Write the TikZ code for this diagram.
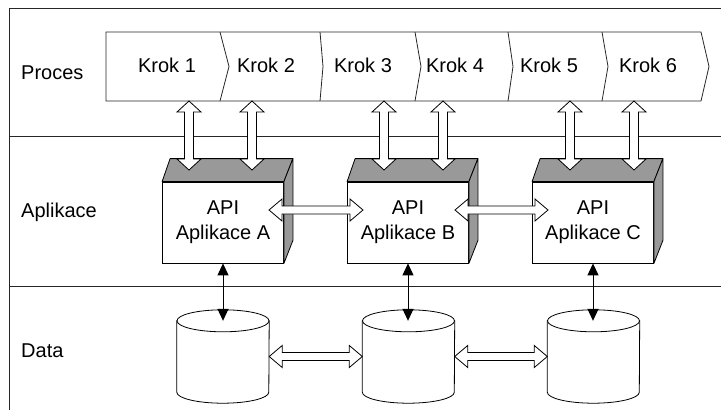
\documentclass[tikz,border=0pt]{standalone}
\usepackage{fontspec}
\setmainfont{Liberation Sans}
\usetikzlibrary{arrows.meta,calc}
\definecolor{boxgray}{RGB}{153,153,153}
\tikzset{
  frameline/.style={draw=black!85, line width=0.8pt},
  lbl/.style={anchor=base west, inner sep=0pt, font=\fontsize{20}{24}\selectfont},
  steptext/.style={anchor=base, inner sep=0pt, font=\fontsize{20}{24}\selectfont},
  apibox/.style={draw=black, fill=white, line width=0.8pt, minimum width=121, minimum height=81,
    inner sep=0pt, align=center, font=\fontsize{20}{25}\selectfont},
  face/.style={draw=black, fill=boxgray, line width=0.8pt, line join=round},
  dbnode/.style={minimum width=92, minimum height=71, inner sep=0pt},
  dbshape/.style={draw=black, fill=white, line width=0.8pt},
  blk/.style={line width=1pt, {Triangle[length=12pt,width=11pt]}-{Triangle[length=12pt,width=11pt]}},
  % hollow double-headed arrow: #1 head length, #2 head half width, #3 shaft half width
  hollow/.style n args={3}{draw=black, fill=white, line width=0.8pt, line join=miter,
    to path={let \p1=(\tikztostart), \p2=(\tikztotarget),
      \n1={veclen(\x2-\x1,\y2-\y1)}, \n2={(\x2-\x1)/\n1}, \n3={(\y2-\y1)/\n1} in
      (\p1)
      -- ({\x1+(#1)*\n2-(#2)*\n3},{\y1+(#1)*\n3+(#2)*\n2})
      -- ({\x1+(#1)*\n2-(#3)*\n3},{\y1+(#1)*\n3+(#3)*\n2})
      -- ({\x1+(\n1-(#1))*\n2-(#3)*\n3},{\y1+(\n1-(#1))*\n3+(#3)*\n2})
      -- ({\x1+(\n1-(#1))*\n2-(#2)*\n3},{\y1+(\n1-(#1))*\n3+(#2)*\n2})
      -- (\p2)
      -- ({\x1+(\n1-(#1))*\n2+(#2)*\n3},{\y1+(\n1-(#1))*\n3-(#2)*\n2})
      -- ({\x1+(\n1-(#1))*\n2+(#3)*\n3},{\y1+(\n1-(#1))*\n3-(#3)*\n2})
      -- ({\x1+(#1)*\n2+(#3)*\n3},{\y1+(#1)*\n3-(#3)*\n2})
      -- ({\x1+(#1)*\n2+(#2)*\n3},{\y1+(#1)*\n3-(#2)*\n2})
      -- cycle}},
  vhollow/.style={hollow={11}{12}{4.5}},
  hhollow/.style={hollow={13}{11}{4}}
}
\begin{document}
\begin{tikzpicture}[x=1pt, y=-1pt]
\useasboundingbox (0,0) rectangle (721,410);

% lanes
\draw[frameline] (721,8) -- (9,8) -- (9,410);
\draw[frameline] (9,136) -- (721,136);
\draw[frameline] (9,286) -- (721,286);

\node[lbl] (lproc) at (21,79) {Proces};
\node[lbl] (lapp) at (21,217) {Aplikace};
\node[lbl] (ldata) at (21,357) {Data};

% process chevrons
\draw[line width=0.8pt, draw=black!85, line join=miter]
  (106,32) -- (701,32) -- (709,66.5) -- (701,101) -- (106,101) -- cycle;
\draw[line width=0.8pt, draw=black!85] (220,32) -- (229,66.5) -- (220,101);
\draw[line width=0.8pt, draw=black!85] (320,32) -- (323,66.5) -- (320,101);
\draw[line width=0.8pt, draw=black!85] (415,32) -- (421,66.5) -- (415,101);
\draw[line width=0.8pt, draw=black!85] (508,32) -- (513,66.5) -- (508,101);
\draw[line width=0.8pt, draw=black!85] (602,32) -- (608,66.5) -- (602,101);

\node[steptext] (k1) at (167,72) {Krok 1};
\node[steptext] (k2) at (266,72) {Krok 2};
\node[steptext] (k3) at (363,72) {Krok 3};
\node[steptext] (k4) at (455,72) {Krok 4};
\node[steptext] (k5) at (549,72) {Krok 5};
\node[steptext] (k6) at (648,72) {Krok 6};

% application boxes
\foreach \nm/\cx/\txt in {apiA/223/A, apiB/408/B, apiC/593/C}{
  \node[apibox] (\nm) at (\cx,222.5) {API\\Aplikace \txt};
  \draw[face] (\nm.north west) -- ++(8,-23) -- ($(\nm.north east)+(9,-23)$) -- (\nm.north east) -- cycle;
  \draw[face] (\nm.north east) -- ++(9,-23) -- ($(\nm.south east)+(9,-23)$) -- (\nm.south east) -- cycle;
}

% step <-> application links
\coordinate (s1) at (189,101); \coordinate (t1) at (189,170);
\coordinate (s2) at (252,101); \coordinate (t2) at (252,170);
\coordinate (s3) at (384,101); \coordinate (t3) at (384,170);
\coordinate (s4) at (443,101); \coordinate (t4) at (443,170);
\coordinate (s5) at (570,101); \coordinate (t5) at (570,170);
\coordinate (s6) at (634,101); \coordinate (t6) at (634,170);
\foreach \i in {1,...,6}{ \draw[vhollow] (s\i) to (t\i); }

% application <-> application links
\coordinate (ab1) at (269,210); \coordinate (ab2) at (363,210);
\coordinate (bc1) at (455,210); \coordinate (bc2) at (548,210);
\draw[hhollow] (ab1) to (ab2);
\draw[hhollow] (bc1) to (bc2);

% databases
\foreach \nm/\cx in {db1/223, db2/408.5, db3/593.5}{
  \node[dbnode] (\nm) at (\cx,356.5) {};
  \draw[dbshape] (\nm.north west) -- (\nm.south west)
    arc[start angle=180, end angle=0, x radius=46, y radius=11] -- (\nm.north east) -- cycle;
  \draw[dbshape] (\nm.north) ellipse [x radius=46, y radius=11];
}

% application <-> data links
\draw[blk] (apiA.south) -- (apiA.south |- db1.north);
\draw[blk] (apiB.south) -- (apiB.south |- db2.north);
\draw[blk] (apiC.south) -- (apiC.south |- db3.north);

% data <-> data links
\draw[hhollow] (db1.east) to (db2.west);
\draw[hhollow] (db2.east) to (db3.west);
\end{tikzpicture}
\end{document}
